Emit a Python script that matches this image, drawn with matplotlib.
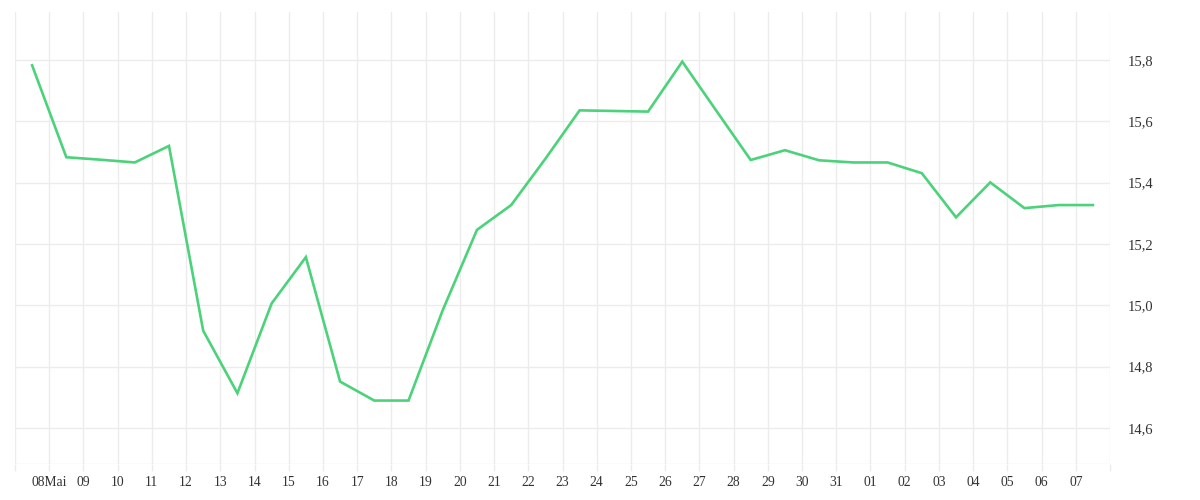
import matplotlib
matplotlib.use("Agg")
import matplotlib.pyplot as plt
import datetime as dt

# Data (daily values, plotted at midday)
dates = [dt.datetime(2020, 5, d, 12) for d in range(7, 32)] + \
        [dt.datetime(2020, 6, d, 12) for d in range(1, 8)]
values = [15.783, 15.483, 15.475, 15.466, 15.520, 14.917, 14.713, 15.006,
          15.157, 14.751, 14.689, 14.689, 14.984, 15.246, 15.327, 15.478,
          15.636, 15.634, 15.632, 15.795, 15.634, 15.474, 15.506, 15.473,
          15.466, 15.466, 15.431, 15.287, 15.401, 15.317, 15.327, 15.327]

y_ticks = [14.6, 14.8, 15.0, 15.2, 15.4, 15.6, 15.8]
y_tick_labels = ["14,6", "14,8", "15,0", "15,2", "15,4", "15,6", "15,8"]

tick_days = [dt.datetime(2020, 5, 7) + dt.timedelta(days=i) for i in range(33)]
tick_labels = [""] + ["08Mai"] + [d.strftime("%d") for d in tick_days[2:-1]] + [""]

plt.rcParams['font.family'] = ['Liberation Serif', 'DejaVu Serif']

fig = plt.figure(figsize=(12, 5), dpi=100)
ax = fig.add_axes([15/1200, 1 - 464/500, (1110 - 15)/1200, (464 - 12)/500])

grid_c = "#ececec"
ax.plot(dates, values, color="#4cd27a", lw=1.9, solid_joinstyle="miter", zorder=3)

ax.set_xlim(dt.datetime(2020, 5, 7), dt.datetime(2020, 6, 8))
ax.set_ylim(14.482, 15.957)

ax.set_xticks(tick_days)
ax.set_xticklabels(tick_labels)
ax.set_yticks(y_ticks)
ax.set_yticklabels(y_tick_labels)

ax.yaxis.tick_right()
ax.tick_params(axis='y', length=0, pad=12.5, labelsize=10.5, labelcolor="#333333")
ax.tick_params(axis='x', length=5, width=1, color=grid_c, pad=4,
               labelsize=9.8, labelcolor="#333333")

ax.grid(True, color=grid_c, lw=1, zorder=0)
for s in ax.spines.values():
    s.set_visible(False)
ax.axhline(14.482, color=grid_c, lw=1, zorder=0)

fig.savefig("out.png", dpi=100, facecolor="white")
